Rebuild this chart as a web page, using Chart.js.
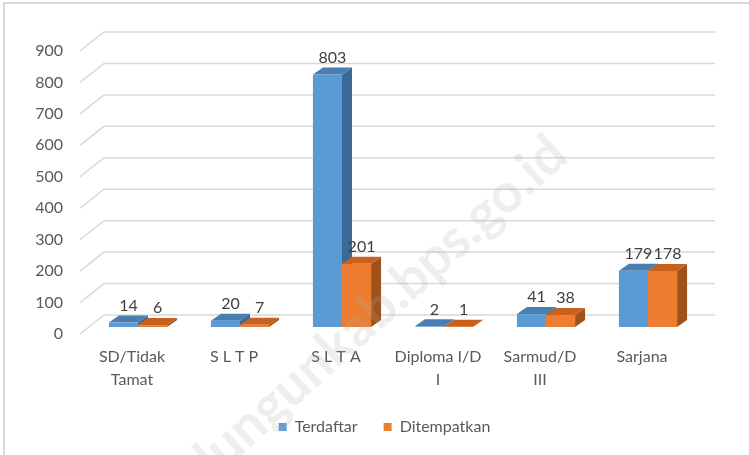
<!DOCTYPE html>
<html>
<head>
<meta charset="utf-8">
<script src="https://cdn.jsdelivr.net/npm/chart.js@4.4.1/dist/chart.umd.min.js"></script>
<style>
html,body{margin:0;padding:0;background:#fff;}
#wrap{width:749px;height:455px;position:relative;}
</style>
</head>
<body>
<div id="wrap"><canvas id="c" width="749" height="455"></canvas></div>
<script>
const categories = [['SD/Tidak','Tamat'], ['S L T P'], ['S L T A'], ['Diploma I/D','I'], ['Sarmud/D','III'], ['Sarjana']];
const terdaftar = [14, 20, 803, 2, 41, 179];
const ditempatkan = [6, 7, 201, 1, 38, 178];
const yTicks = [0, 100, 200, 300, 400, 500, 600, 700, 800, 900];
const seriesNames = ['Terdaftar', 'Ditempatkan'];

const FONT = 'Lato, "Open Sans", sans-serif';
const DX = 10, DY = -7;          // bar depth
const GX = 17, GY = 12;          // back wall offset
const faces = [
  {front:'#5B9BD5', top:'#4A7DB0', side:'#3C6A96'},
  {front:'#ED7D31', top:'#C8601E', side:'#A0521D'}
];

const frame3d = {
  id: 'frame3d',
  afterLayout(chart) {
    const lg = chart.legend;
    if (lg) { lg.left += 35; lg.right += 35; }
  },
  beforeDraw(chart) {
    const ctx = chart.ctx;
    ctx.save();
    ctx.fillStyle = '#fff';
    ctx.fillRect(0, 0, chart.width, chart.height);
    ctx.strokeStyle = '#D9D9D9';
    ctx.lineWidth = 2;
    ctx.beginPath();
    ctx.moveTo(4, 455); ctx.lineTo(4, 3); ctx.lineTo(749, 3);
    ctx.stroke();
    ctx.restore();
  },
  beforeDatasetsDraw(chart) {
    const ctx = chart.ctx, y = chart.scales.y, area = chart.chartArea;
    ctx.save();
    ctx.strokeStyle = '#D9D9D9';
    ctx.lineWidth = 1.5;
    y.ticks.forEach(t => {
      const yb = y.getPixelForValue(t.value);
      ctx.beginPath();
      ctx.moveTo(80, yb + 7);
      ctx.lineTo(area.left + GX, yb - GY);
      ctx.lineTo(area.right + GX - 1, yb - GY);
      ctx.stroke();
    });
    // 3D side and top faces, drawn before the fronts
    const metas = chart.data.datasets.map((d, i) => chart.getDatasetMeta(i));
    for (let k = 0; k < chart.data.labels.length; k++) {
      metas.forEach((meta, di) => {
        const el = meta.data[k];
        const half = el.width / 2;
        const l = el.x - half, r = el.x + half, top = el.y, base = el.base;
        ctx.fillStyle = faces[di].side;
        ctx.beginPath();
        ctx.moveTo(r, top); ctx.lineTo(r + DX, top + DY);
        ctx.lineTo(r + DX, base + DY); ctx.lineTo(r, base);
        ctx.closePath(); ctx.fill();
        ctx.fillStyle = faces[di].top;
        ctx.beginPath();
        ctx.moveTo(l, top); ctx.lineTo(r, top);
        ctx.lineTo(r + DX, top + DY); ctx.lineTo(l + DX, top + DY);
        ctx.closePath(); ctx.fill();
      });
    }
    ctx.restore();
  },
  afterDatasetsDraw(chart) {
    const ctx = chart.ctx;
    ctx.save();
    ctx.font = '16px ' + FONT;
    ctx.fillStyle = '#404040';
    ctx.textAlign = 'center';
    ctx.textBaseline = 'bottom';
    chart.data.datasets.forEach((ds, di) => {
      chart.getDatasetMeta(di).data.forEach((el, k) => {
        ctx.fillText(String(ds.data[k]), el.x + DX / 2, el.y + DY - 2);
      });
    });
    ctx.restore();
  },
  afterDraw(chart) {
    const ctx = chart.ctx;
    ctx.save();
    ctx.translate(562, 150);
    ctx.rotate(-42 * Math.PI / 180);
    ctx.font = 'bold 54px ' + FONT;
    ctx.fillStyle = 'rgba(170,170,170,0.2)';
    ctx.textAlign = 'right';
    ctx.textBaseline = 'bottom';
    ctx.fillText('simalungunkab.bps.go.id', 0, 22);
    ctx.restore();
  }
};

new Chart(document.getElementById('c'), {
  type: 'bar',
  data: {
    labels: categories,
    datasets: [
      {label: seriesNames[0], data: terdaftar, backgroundColor: faces[0].front, borderWidth: 0},
      {label: seriesNames[1], data: ditempatkan, backgroundColor: faces[1].front, borderWidth: 0}
    ]
  },
  options: {
    responsive: false,
    animation: false,
    devicePixelRatio: 1,
    layout: {padding: {top: 44, right: 50, left: 0, bottom: 10}},
    datasets: {bar: {categoryPercentage: 0.57, barPercentage: 1.0}},
    plugins: {
      tooltip: {enabled: false},
      legend: {
        position: 'bottom',
        labels: {
          boxWidth: 8, boxHeight: 8, padding: 26,
          color: '#595959',
          font: {family: FONT, size: 16}
        }
      }
    },
    scales: {
      x: {
        grid: {display: false, drawTicks: false},
        border: {display: false},
        afterFit(s) { s.height = 66; },
        ticks: {
          color: '#595959',
          font: {family: FONT, size: 16, lineHeight: 1.45},
          padding: 18,
          labelOffset: -6,
          maxRotation: 0, autoSkip: false
        }
      },
      y: {
        min: 0, max: 900,
        afterFit(s) { s.width = 87; },
        afterBuildTicks(s) { s.ticks = yTicks.map(v => ({value: v})); },
        grid: {display: false, drawTicks: false},
        border: {display: false},
        ticks: {
          color: '#595959',
          font: {family: FONT, size: 16},
          padding: 24,
          labelOffset: 7
        }
      }
    }
  },
  plugins: [frame3d]
});
</script>
</body>
</html>
